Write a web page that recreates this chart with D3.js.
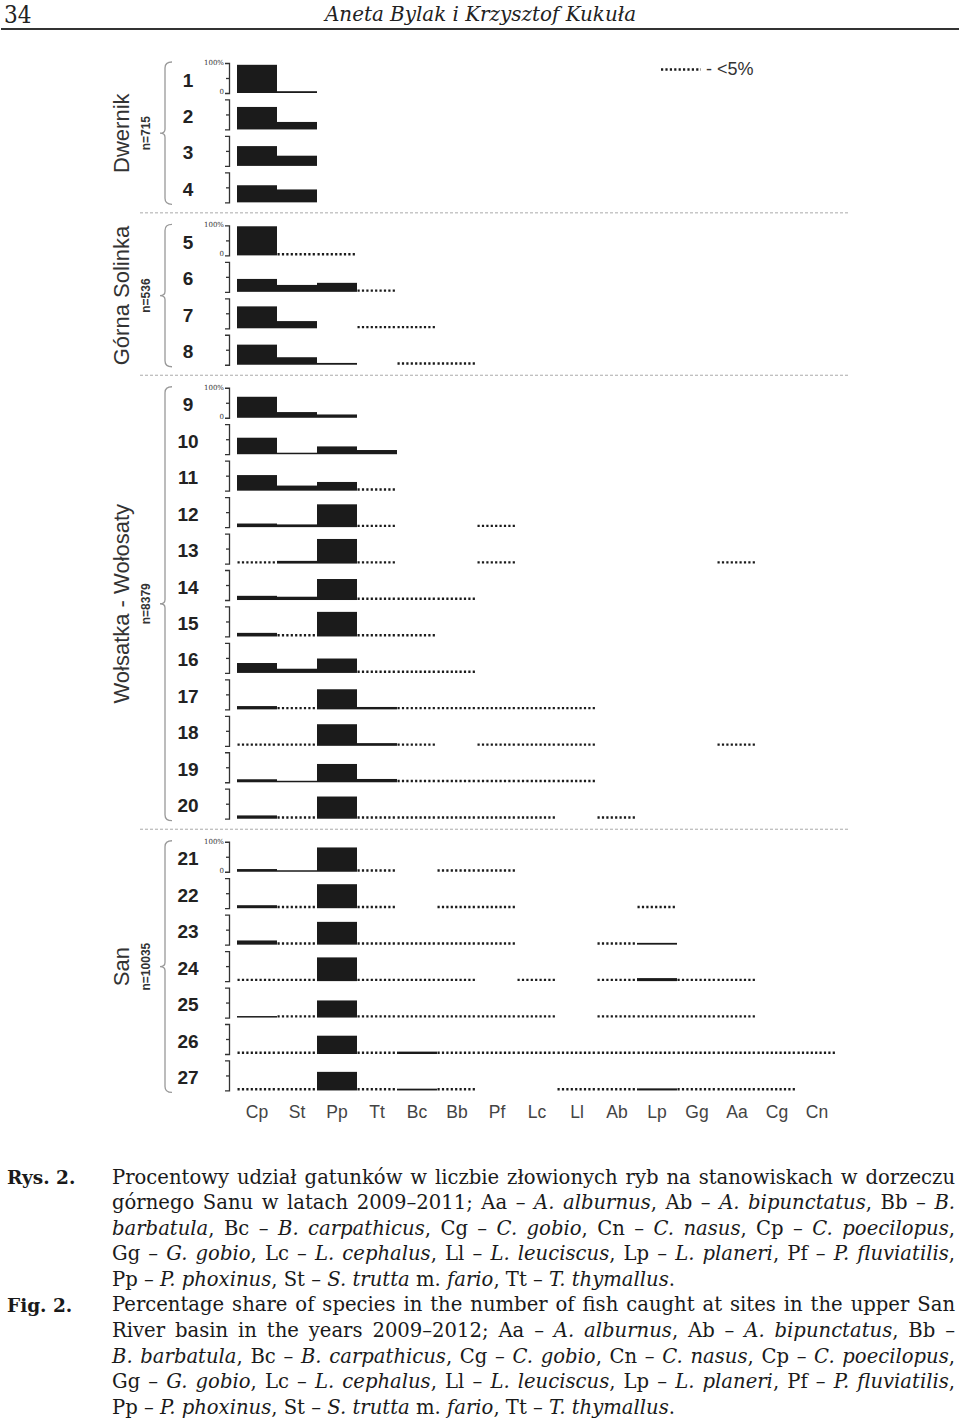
<!DOCTYPE html>
<html><head><meta charset="utf-8">
<script src="https://cdn.jsdelivr.net/npm/d3@7"></script>
<style>
html,body{margin:0;padding:0;background:#fff;}
#page{position:relative;width:960px;height:1425px;overflow:hidden;background:#fff;}
#page svg{position:absolute;left:0;top:0;}
.cap{position:absolute;font-family:"DejaVu Serif",serif;font-size:19.6px;line-height:25.6px;color:#1a1a1a;}
.cap .ln{white-space:nowrap;}
.cap .ln span{white-space:nowrap;}
.lab{font-weight:bold;}
</style></head><body><div id="page"></div>
<script>
// ---------- data ----------
const species = ["Cp","St","Pp","Tt","Bc","Bb","Pf","Lc","Ll","Ab","Lp","Gg","Aa","Cg","Cn"];
const siteLabels = d3.range(1, 28).map(String);
const rivers = ["Dwernik", "Górna Solinka", "Wołsatka - Wołosaty", "San"];
const riverN = ["n=715", "n=536", "n=8379", "n=10035"];
const riverSiteCount = [4, 4, 12, 7];
const T = "<5";   // share below 5 % (dotted)
const _ = null;   // species absent
// site:     1   2   3   4   5   6   7   8   9  10  11  12  13  14  15  16  17  18  19  20  21  22  23  24  25  26  27
const Cp = [94, 75, 66, 57, 97, 43, 73, 67, 70, 55, 52, 12,  T, 14, 12, 33, 11,  T, 10, 11,  9, 10, 14,  T,  5,  T,  T];
const St = [ 6, 25, 34, 43,  T, 23, 24, 25, 19,  5, 17,  9,  9, 11,  T, 14,  T,  T,  5,  T,  5,  T,  T,  T,  T,  T,  T];
const Pp = [ _,  _,  _,  _,  T, 30,  _,  6, 11, 26, 29, 76, 82, 70, 82, 48, 67, 72, 61, 74, 81, 80, 76, 79, 57, 61, 62];
const Tt = [ _,  _,  _,  _,  _,  T,  T,  _,  _, 14,  T,  T,  T,  T,  T,  T,  8,  9, 11,  T,  T,  T,  T,  T,  T,  T,  T];
const Bc = [ _,  _,  _,  _,  _,  _,  T,  T,  _,  _,  _,  _,  _,  T,  T,  T,  T,  T,  T,  T,  _,  _,  T,  T,  T,  8,  6];
const Bb = [ _,  _,  _,  _,  _,  _,  _,  T,  _,  _,  _,  _,  _,  T,  _,  T,  T,  _,  T,  T,  T,  T,  T,  T,  T,  T,  T];
const Pf = [ _,  _,  _,  _,  _,  _,  _,  _,  _,  _,  _,  T,  T,  _,  _,  _,  T,  T,  T,  T,  T,  T,  T,  _,  T,  T,  _];
const Lc = [ _,  _,  _,  _,  _,  _,  _,  _,  _,  _,  _,  _,  _,  _,  _,  _,  T,  T,  T,  T,  _,  _,  _,  T,  T,  T,  _];
const Ll = [ _,  _,  _,  _,  _,  _,  _,  _,  _,  _,  _,  _,  _,  _,  _,  _,  T,  T,  T,  _,  _,  _,  _,  _,  _,  T,  T];
const Ab = [ _,  _,  _,  _,  _,  _,  _,  _,  _,  _,  _,  _,  _,  _,  _,  _,  _,  _,  _,  T,  _,  _,  T,  T,  T,  T,  T];
const Lp = [ _,  _,  _,  _,  _,  _,  _,  _,  _,  _,  _,  _,  _,  _,  _,  _,  _,  _,  _,  _,  _,  T,  6, 10,  T,  T,  7];
const Gg = [ _,  _,  _,  _,  _,  _,  _,  _,  _,  _,  _,  _,  _,  _,  _,  _,  _,  _,  _,  _,  _,  _,  _,  T,  T,  T,  T];
const Aa = [ _,  _,  _,  _,  _,  _,  _,  _,  _,  _,  _,  _,  T,  _,  _,  _,  _,  T,  _,  _,  _,  _,  _,  T,  T,  T,  T];
const Cg = [ _,  _,  _,  _,  _,  _,  _,  _,  _,  _,  _,  _,  _,  _,  _,  _,  _,  _,  _,  _,  _,  _,  _,  _,  _,  T,  T];
const Cn = [ _,  _,  _,  _,  _,  _,  _,  _,  _,  _,  _,  _,  _,  _,  _,  _,  _,  _,  _,  _,  _,  _,  _,  _,  _,  T,  _];
const scaleTickLabels = ["100%", "0"];
const legendLabel = "- <5%";
const pageNumber = "34";
const runningHead = "Aneta Bylak i Krzysztof Kukuła";
const captionHeads = ["Rys. 2.", "Fig. 2."];
const captionPL = [
  "Procentowy udział gatunków w liczbie złowionych ryb na stanowiskach w dorzeczu",
  "górnego Sanu w latach 2009–2011; Aa – <i>A. alburnus</i>, Ab – <i>A. bipunctatus</i>, Bb – <i>B.</i>",
  "<i>barbatula</i>, Bc – <i>B. carpathicus</i>, Cg – <i>C. gobio</i>, Cn – <i>C. nasus</i>, Cp – <i>C. poecilopus</i>,",
  "Gg – <i>G. gobio</i>, Lc – <i>L. cephalus</i>, Ll – <i>L. leuciscus</i>, Lp – <i>L. planeri</i>, Pf – <i>P. fluviatilis</i>,",
  "Pp – <i>P. phoxinus</i>, St – <i>S. trutta</i> m. <i>fario</i>, Tt – <i>T. thymallus</i>."
];
const captionEN = [
  "Percentage share of species in the number of fish caught at sites in the upper San",
  "River basin in the years 2009–2012; Aa – <i>A. alburnus</i>, Ab – <i>A. bipunctatus</i>, Bb –",
  "<i>B. barbatula</i>, Bc – <i>B. carpathicus</i>, Cg – <i>C. gobio</i>, Cn – <i>C. nasus</i>, Cp – <i>C. poecilopus</i>,",
  "Gg – <i>G. gobio</i>, Lc – <i>L. cephalus</i>, Ll – <i>L. leuciscus</i>, Lp – <i>L. planeri</i>, Pf – <i>P. fluviatilis</i>,",
  "Pp – <i>P. phoxinus</i>, St – <i>S. trutta</i> m. <i>fario</i>, Tt – <i>T. thymallus</i>."
];

// ---------- build ----------
const valuesBySpecies = {Cp, St, Pp, Tt, Bc, Bb, Pf, Lc, Ll, Ab, Lp, Gg, Aa, Cg, Cn};
const groupOfSite = [];
riverSiteCount.forEach((c, g) => { for (let k = 0; k < c; k++) groupOfSite.push(g); });
const groupGap = 0.455;
const sites = siteLabels.map((lab, i) => ({
  label: lab, index: i, group: groupOfSite[i], slot: i + groupOfSite[i] * groupGap,
  values: species.map(s => valuesBySpecies[s][i])
}));

const W = 960;
const page = d3.select("#page");
const svg = page.append("svg").attr("width", W).attr("height", 1160);

const x = d3.scaleBand().domain(species).range([237, 837]).padding(0);
const rowY = d3.scaleLinear().domain([0, 1]).range([93, 93 + 36.45]);
const barH = d3.scaleLinear().domain([0, 100]).range([0, 30]);
const ink = "#1b1b1b";
const sansF = "'Liberation Sans', Arial, sans-serif";
const narrowF = "'Liberation Sans Narrow', 'Liberation Sans', Arial, sans-serif";
const serifF = "'DejaVu Serif Condensed', 'DejaVu Serif', serif";

// header
svg.append("text").attr("x", 4).attr("y", 23).text(pageNumber)
  .attr("font-family", serifF).attr("font-size", 24).attr("fill", "#222");
svg.append("text").attr("x", 325).attr("y", 21).text(runningHead)
  .attr("font-family", serifF).attr("font-style", "italic").attr("font-size", 21)
  .attr("textLength", 311).attr("lengthAdjust", "spacingAndGlyphs").attr("fill", "#222");
svg.append("line").attr("x1", 1).attr("x2", 959).attr("y1", 29).attr("y2", 29)
  .attr("stroke", "#333").attr("stroke-width", 2);

// legend
svg.append("line").attr("x1", 661).attr("x2", 701).attr("y1", 69.5).attr("y2", 69.5)
  .attr("stroke", ink).attr("stroke-width", 2.4).attr("stroke-dasharray", "2.2,2.2");
svg.append("text").attr("x", 706).attr("y", 75).text(legendLabel)
  .attr("font-family", sansF).attr("font-size", 18).attr("fill", "#333");

// rows
const rows = svg.selectAll("g.row").data(sites).join("g").attr("class", "row")
  .attr("transform", d => `translate(0,${rowY(d.slot)})`);

rows.each(function(d) {
  const g = d3.select(this);
  const cells = species.map((s, j) => ({sp: s, v: d.values[j]})).filter(c => c.v !== null);
  g.selectAll("rect.bar").data(cells.filter(c => c.v !== T)).join("rect").attr("class", "bar")
    .attr("x", c => x(c.sp)).attr("width", x.bandwidth())
    .attr("y", c => -barH(c.v)).attr("height", c => barH(c.v)).attr("fill", ink);
  g.selectAll("line.trace").data(cells.filter(c => c.v === T)).join("line").attr("class", "trace")
    .attr("x1", c => x(c.sp) + 0.5).attr("x2", c => x(c.sp) + x.bandwidth())
    .attr("y1", -1.2).attr("y2", -1.2)
    .attr("stroke", ink).attr("stroke-width", 2.4).attr("stroke-dasharray", "2.2,2.2");
  // scale bracket
  const ax = g.append("g").attr("transform", `translate(229,${-barH(100)})`)
    .call(d3.axisLeft(d3.scaleLinear().domain([0, 100]).range([barH(100), 0]))
      .tickValues([50]).tickSize(3).tickSizeOuter(4).tickFormat(""));
  ax.selectAll("path,line").attr("stroke", "#333").attr("stroke-width", 1.3);
  // site number
  g.append("text").attr("x", 188).attr("y", -13).attr("text-anchor", "middle")
    .attr("dominant-baseline", "central").text(d.label)
    .attr("font-family", narrowF).attr("font-weight", "bold").attr("font-size", 19).attr("fill", "#222");
  // 100% / 0 labels for first row of each river
  if (d.index === 0 || groupOfSite[d.index - 1] !== d.group) {
    [100, 0].forEach((v, k) => {
      g.append("text").attr("x", 224).attr("y", -barH(v) + (k === 0 ? 2 : 1))
        .attr("text-anchor", "end").text(scaleTickLabels[k])
        .attr("font-family", "'DejaVu Serif', serif").attr("font-size", 7).attr("fill", "#333");
    });
  }
});

// rivers: labels, braces, separators
rivers.forEach((name, g) => {
  const gs = sites.filter(s => s.group === g);
  const top = rowY(gs[0].slot) - 31, bot = rowY(gs[gs.length - 1].slot) + 2;
  const mid = (top + bot) / 2;
  svg.append("text").attr("transform", `translate(121,${mid}) rotate(-90)`)
    .attr("text-anchor", "middle").attr("dominant-baseline", "central").text(name)
    .attr("font-family", sansF).attr("font-size", 22).attr("fill", "#333");
  svg.append("text").attr("transform", `translate(146,${mid}) rotate(-90)`)
    .attr("text-anchor", "middle").attr("dominant-baseline", "central").text(riverN[g])
    .attr("font-family", sansF).attr("font-weight", "bold").attr("font-size", 12).attr("fill", "#333");
  const bx = 165;
  svg.append("path")
    .attr("d", `M${bx + 7},${top} Q${bx},${top} ${bx},${top + 6} V${mid - 4} Q${bx},${mid} ${bx - 5},${mid} Q${bx},${mid} ${bx},${mid + 4} V${bot - 6} Q${bx},${bot} ${bx + 7},${bot}`)
    .attr("fill", "none").attr("stroke", "#999").attr("stroke-width", 1.3);
  if (g < rivers.length - 1) {
    const yy = rowY(gs[gs.length - 1].slot) + 10.5;
    svg.append("line").attr("x1", 140).attr("x2", 848).attr("y1", yy).attr("y2", yy)
      .attr("stroke", "#aaa").attr("stroke-width", 1).attr("stroke-dasharray", "3,2");
  }
});

// species labels
svg.selectAll("text.sp").data(species).join("text").attr("class", "sp")
  .attr("x", s => x(s) + x.bandwidth() / 2).attr("y", 1118).attr("text-anchor", "middle").text(s => s)
  .attr("font-family", sansF).attr("font-size", 17.5).attr("fill", "#444");

// caption
const capTop = 1164.5, lineH = 25.6, capW = 843;
captionHeads.forEach((h, k) => {
  page.append("div").attr("class", "cap lab").style("left", "7px").style("font-size", "18.5px")
    .style("top", (capTop + k * 5 * lineH) + "px").text(h);
});
const capBox = page.append("div").attr("class", "cap").style("left", "112px").style("top", capTop + "px")
  .style("width", capW + "px");
const allLines = captionPL.concat(captionEN);
allLines.forEach((ln, k) => {
  const div = capBox.append("div").attr("class", "ln");
  const span = div.append("span").html(ln);
  const last = (k === 4 || k === 9);
  if (!last) {
    const w = span.node().getBoundingClientRect().width;
    const nSp = (span.node().textContent.match(/ /g) || []).length;
    if (nSp > 0) span.style("word-spacing", ((capW - w) / nSp) + "px");
  }
});
</script></body></html>
